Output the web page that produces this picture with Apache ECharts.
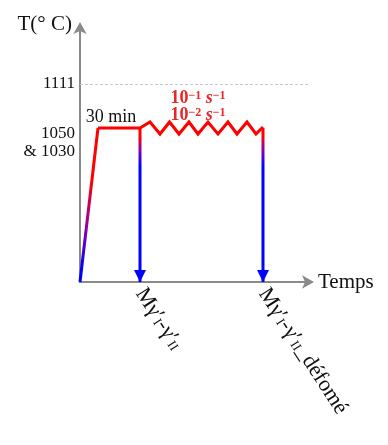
<!DOCTYPE html>
<html>
<head>
<meta charset="utf-8">
<script src="https://cdn.jsdelivr.net/npm/echarts@6/dist/echarts.min.js"></script>
<style>html,body{margin:0;padding:0;background:#fff;}#c{width:388px;height:445px;}</style>
</head>
<body>
<div id="c"></div>
<script>
// Schematic thermal-mechanical path (schematic units: time → right, temperature level → up)
const rampTime = [0, 18];
const rampTemp = [0, 154];
const holdTime = [18, 60, 70, 80, 89.5, 99, 109, 118, 128, 138, 148, 157, 167, 176, 183];
const holdTemp = [154, 154, 160, 148, 160, 148, 160, 148, 160, 148, 160, 148, 160, 148, 155];
const quenchTime = [60, 183];
const quenchTop = 154;
const refLevel = 198;              // 1111 °C reference line
const yTickValues = [154, 198];
const yTickLabels = ['1050\n& 1030', '1111'];
const xTickValues = [60, 183];
const xTickLabels = ['Mγ′|I|-γ′|II|', 'Mγ′|I|-γ′|II|_défomé'];
const holdLabel = '30 min';
const rateLabels = ['10|−1| s|−1', '10|−2| s|−1'];

const FONT = 'Liberation Serif';
const chart = echarts.init(document.getElementById('c'), null, {renderer: 'canvas'});

function xTickFmt(v) {
  const i = xTickValues.indexOf(v);
  if (i < 0) return '';
  const p = xTickLabels[i].split('|');
  let s = '';
  p.forEach((t, k) => { if (t) s += (k % 2 === 0 ? '{t|' : '{s|') + t + '}'; });
  return s;
}
function yTickFmt(v) {
  const i = yTickValues.indexOf(v);
  if (i < 0) return '';
  const lines = yTickLabels[i].split('\n');
  if (lines.length > 1) return '{sp| }\n' + lines.map(l => '{a|' + l + '}').join('\n');
  return '{a|' + lines[0] + '}';
}
function rateFmt() {
  return rateLabels.map(r => {
    const p = r.split('|');
    return '{n|' + p[0] + '}{u|' + p[1] + '}{i| ' + p[2].trim() + '}{u|' + p[3] + '}';
  }).join('\n');
}

const grad = (stops) => new echarts.graphic.LinearGradient(0, 0, 0, 1, stops);
const rampGrad = grad([{offset: 0, color: '#ff0000'}, {offset: 0.35, color: '#ff0000'}, {offset: 0.65, color: '#8a00b0'}, {offset: 0.9, color: '#0000ff'}, {offset: 1, color: '#0000ff'}]);

const RED_TXT = '#e8262a';
const holdData = holdTime.map((t, i) => {
  const d = {value: [t, holdTemp[i]]};
  if (i === 0) {
    d.symbol = 'circle'; d.symbolSize = 0.1;
    d.label = {show: true, position: 'top', distance: 2, offset: [13, 0], formatter: holdLabel, color: '#111', fontFamily: FONT, fontSize: 18};
  }
  if (i === 6) {
    d.symbol = 'circle'; d.symbolSize = 0.1;
    d.label = {show: true, position: 'top', distance: 0, offset: [9, 2], formatter: rateFmt,
      rich: {
        n: {fontFamily: FONT, fontSize: 18, fontWeight: 'bold', color: RED_TXT, lineHeight: 17},
        u: {fontFamily: FONT, fontSize: 12, fontWeight: 'bold', color: RED_TXT, verticalAlign: 'top', lineHeight: 17, padding: [0, 0, 6, 0]},
        i: {fontFamily: FONT, fontSize: 18, fontWeight: 'bold', fontStyle: 'italic', color: RED_TXT, lineHeight: 17}
      }};
  }
  return d;
});

const quenchSeries = quenchTime.map(t => ({
  type: 'line',
  data: [{value: [t, quenchTop], symbol: 'none'}, {value: [t, 0], symbol: 'triangle', symbolRotate: 180, symbolSize: [12, 12], symbolOffset: [0, -6]}],
  showSymbol: true,
  lineStyle: {width: 3, color: grad([{offset: 0, color: '#ff0000'}, {offset: 0.07, color: '#ff0000'}, {offset: 0.16, color: '#8000c0'}, {offset: 0.26, color: '#0000ff'}, {offset: 1, color: '#0000ff'}])},
  itemStyle: {color: '#0000ff'},
  z: 4,
  animation: false
}));

chart.setOption({
  animation: false,
  grid: {left: 80, right: 78, top: 26, bottom: 163, containLabel: false},
  xAxis: {
    type: 'value', min: 0, max: 230,
    name: 'Temps', nameLocation: 'end', nameGap: 8,
    nameTextStyle: {fontFamily: FONT, fontSize: 21, color: '#111', verticalAlign: 'middle'},
    splitLine: {show: false},
    axisTick: {show: false},
    axisLine: {show: true, onZero: false, symbol: ['none', 'arrow'], symbolSize: [10, 12], symbolOffset: [0, 4], lineStyle: {color: '#8a8a8a', width: 2}},
    axisLabel: {
      customValues: xTickValues, rotate: -57, margin: 8, formatter: xTickFmt,
      rich: {
        t: {fontFamily: FONT, fontSize: 22, color: '#111'},
        s: {fontFamily: FONT, fontSize: 13, color: '#111', padding: [7, 0, 0, 0]}
      }
    }
  },
  yAxis: {
    type: 'value', min: 0, max: 256,
    name: 'T(° C)', nameLocation: 'end', nameGap: 2,
    nameTextStyle: {fontFamily: FONT, fontSize: 21, color: '#111', align: 'right', verticalAlign: 'middle', padding: [0, 8, 0, 0]},
    splitLine: {show: false},
    axisTick: {show: false},
    axisLine: {show: true, onZero: false, symbol: ['none', 'arrow'], symbolSize: [10, 12], symbolOffset: [0, 4], lineStyle: {color: '#8a8a8a', width: 2}},
    axisLabel: {
      customValues: yTickValues, margin: 5, formatter: yTickFmt,
      rich: {
        a: {fontFamily: FONT, fontSize: 17, color: '#111', lineHeight: 18, align: 'right'},
        sp: {fontSize: 1, lineHeight: 30}
      }
    }
  },
  series: [
    {
      type: 'line', data: rampTime.map((t, i) => [t, rampTemp[i]]), showSymbol: false,
      lineStyle: {width: 3, color: rampGrad}, z: 3
    },
    {
      type: 'line', data: holdData, showSymbol: true, symbol: 'none',
      itemStyle: {color: '#ff0000'},
      lineStyle: {width: 3, color: '#ff0000', join: 'miter'}, z: 3,
      markLine: {
        silent: true, symbol: 'none', label: {show: false},
        lineStyle: {type: [3, 2], color: '#c8c8c8', width: 1},
        data: [{yAxis: refLevel}]
      }
    },
    ...quenchSeries
  ]
});
</script>
</body>
</html>
